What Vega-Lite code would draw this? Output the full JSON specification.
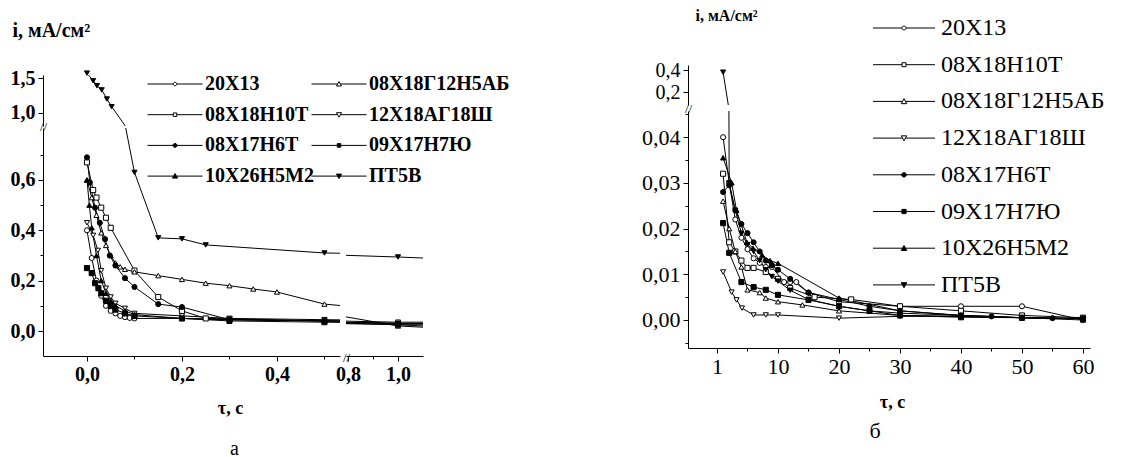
{
  "$schema": "https://vega.github.io/schema/vega-lite/v6.json",
  "padding": {"left": 10, "top": 7, "right": 5, "bottom": 0},
  "bounds": "flush",
  "spacing": 645,
  "config": {
    "view": {"stroke": null},
    "axis": {"labelFont": "Liberation Serif", "titleFont": "Liberation Serif", "labelColor": "black", "titleColor": "black", "domainColor": "black", "tickColor": "black", "grid": false, "labelOverlap": false, "labelFlush": false, "labelBound": false, "domainWidth": 1, "tickWidth": 1, "labelPadding": 3},
    "title": {"font": "Liberation Serif", "color": "black", "fontWeight": "normal"}
  },
  "datasets": {
    "a": [
      {"s": "20Х13", "t": 0, "i": 0.40}, {"s": "20Х13", "t": 0.01, "i": 0.29}, {"s": "20Х13", "t": 0.02, "i": 0.20}, {"s": "20Х13", "t": 0.03, "i": 0.14}, {"s": "20Х13", "t": 0.04, "i": 0.10}, {"s": "20Х13", "t": 0.05, "i": 0.08}, {"s": "20Х13", "t": 0.06, "i": 0.07}, {"s": "20Х13", "t": 0.07, "i": 0.06}, {"s": "20Х13", "t": 0.08, "i": 0.055}, {"s": "20Х13", "t": 0.09, "i": 0.052}, {"s": "20Х13", "t": 0.1, "i": 0.05}, {"s": "20Х13", "t": 0.2, "i": 0.05}, {"s": "20Х13", "t": 0.3, "i": 0.045}, {"s": "20Х13", "t": 0.5, "i": 0.04}, {"s": "20Х13", "t": 1.0, "i": 0.025}, {"s": "20Х13", "t": 1.1, "i": 0.02},
      {"s": "08Х18Н10Т", "t": 0, "i": 0.67}, {"s": "08Х18Н10Т", "t": 0.013, "i": 0.56}, {"s": "08Х18Н10Т", "t": 0.02, "i": 0.53}, {"s": "08Х18Н10Т", "t": 0.03, "i": 0.49}, {"s": "08Х18Н10Т", "t": 0.04, "i": 0.45}, {"s": "08Х18Н10Т", "t": 0.05, "i": 0.41}, {"s": "08Х18Н10Т", "t": 0.1, "i": 0.24}, {"s": "08Х18Н10Т", "t": 0.15, "i": 0.135}, {"s": "08Х18Н10Т", "t": 0.2, "i": 0.08}, {"s": "08Х18Н10Т", "t": 0.25, "i": 0.05}, {"s": "08Х18Н10Т", "t": 0.3, "i": 0.048}, {"s": "08Х18Н10Т", "t": 0.5, "i": 0.04}, {"s": "08Х18Н10Т", "t": 1.0, "i": 0.03}, {"s": "08Х18Н10Т", "t": 1.1, "i": 0.03},
      {"s": "08Х18Г12Н5АБ", "t": 0, "i": 0.60}, {"s": "08Х18Г12Н5АБ", "t": 0.01, "i": 0.53}, {"s": "08Х18Г12Н5АБ", "t": 0.02, "i": 0.46}, {"s": "08Х18Г12Н5АБ", "t": 0.03, "i": 0.39}, {"s": "08Х18Г12Н5АБ", "t": 0.04, "i": 0.34}, {"s": "08Х18Г12Н5АБ", "t": 0.05, "i": 0.30}, {"s": "08Х18Г12Н5АБ", "t": 0.06, "i": 0.27}, {"s": "08Х18Г12Н5АБ", "t": 0.07, "i": 0.255}, {"s": "08Х18Г12Н5АБ", "t": 0.08, "i": 0.245}, {"s": "08Х18Г12Н5АБ", "t": 0.1, "i": 0.235}, {"s": "08Х18Г12Н5АБ", "t": 0.15, "i": 0.22}, {"s": "08Х18Г12Н5АБ", "t": 0.2, "i": 0.205}, {"s": "08Х18Г12Н5АБ", "t": 0.25, "i": 0.19}, {"s": "08Х18Г12Н5АБ", "t": 0.3, "i": 0.18}, {"s": "08Х18Г12Н5АБ", "t": 0.35, "i": 0.167}, {"s": "08Х18Г12Н5АБ", "t": 0.4, "i": 0.155}, {"s": "08Х18Г12Н5АБ", "t": 0.5, "i": 0.107}, {"s": "08Х18Г12Н5АБ", "t": 1.0, "i": 0.02}, {"s": "08Х18Г12Н5АБ", "t": 1.1, "i": 0.015},
      {"s": "12Х18АГ18Ш", "t": 0, "i": 0.43}, {"s": "12Х18АГ18Ш", "t": 0.013, "i": 0.38}, {"s": "12Х18АГ18Ш", "t": 0.023, "i": 0.32}, {"s": "12Х18АГ18Ш", "t": 0.03, "i": 0.24}, {"s": "12Х18АГ18Ш", "t": 0.04, "i": 0.17}, {"s": "12Х18АГ18Ш", "t": 0.05, "i": 0.135}, {"s": "12Х18АГ18Ш", "t": 0.06, "i": 0.11}, {"s": "12Х18АГ18Ш", "t": 0.08, "i": 0.09}, {"s": "12Х18АГ18Ш", "t": 0.1, "i": 0.07}, {"s": "12Х18АГ18Ш", "t": 0.2, "i": 0.06}, {"s": "12Х18АГ18Ш", "t": 0.3, "i": 0.05}, {"s": "12Х18АГ18Ш", "t": 0.5, "i": 0.045}, {"s": "12Х18АГ18Ш", "t": 1.0, "i": 0.035}, {"s": "12Х18АГ18Ш", "t": 1.1, "i": 0.035},
      {"s": "08Х17Н6Т", "t": 0, "i": 0.69}, {"s": "08Х17Н6Т", "t": 0.006, "i": 0.59}, {"s": "08Х17Н6Т", "t": 0.017, "i": 0.49}, {"s": "08Х17Н6Т", "t": 0.027, "i": 0.43}, {"s": "08Х17Н6Т", "t": 0.038, "i": 0.365}, {"s": "08Х17Н6Т", "t": 0.048, "i": 0.30}, {"s": "08Х17Н6Т", "t": 0.06, "i": 0.26}, {"s": "08Х17Н6Т", "t": 0.08, "i": 0.21}, {"s": "08Х17Н6Т", "t": 0.1, "i": 0.175}, {"s": "08Х17Н6Т", "t": 0.15, "i": 0.107}, {"s": "08Х17Н6Т", "t": 0.2, "i": 0.095}, {"s": "08Х17Н6Т", "t": 0.3, "i": 0.045}, {"s": "08Х17Н6Т", "t": 0.5, "i": 0.04}, {"s": "08Х17Н6Т", "t": 1.0, "i": 0.03}, {"s": "08Х17Н6Т", "t": 1.1, "i": 0.03},
      {"s": "09Х17Н7Ю", "t": 0, "i": 0.25}, {"s": "09Х17Н7Ю", "t": 0.01, "i": 0.23}, {"s": "09Х17Н7Ю", "t": 0.017, "i": 0.19}, {"s": "09Х17Н7Ю", "t": 0.024, "i": 0.17}, {"s": "09Х17Н7Ю", "t": 0.03, "i": 0.15}, {"s": "09Х17Н7Ю", "t": 0.04, "i": 0.12}, {"s": "09Х17Н7Ю", "t": 0.05, "i": 0.10}, {"s": "09Х17Н7Ю", "t": 0.06, "i": 0.085}, {"s": "09Х17Н7Ю", "t": 0.08, "i": 0.07}, {"s": "09Х17Н7Ю", "t": 0.1, "i": 0.06}, {"s": "09Х17Н7Ю", "t": 0.2, "i": 0.05}, {"s": "09Х17Н7Ю", "t": 0.3, "i": 0.04}, {"s": "09Х17Н7Ю", "t": 0.5, "i": 0.035}, {"s": "09Х17Н7Ю", "t": 1.0, "i": 0.025}, {"s": "09Х17Н7Ю", "t": 1.1, "i": 0.025},
      {"s": "10Х26Н5М2", "t": 0, "i": 0.60}, {"s": "10Х26Н5М2", "t": 0.005, "i": 0.50}, {"s": "10Х26Н5М2", "t": 0.01, "i": 0.41}, {"s": "10Х26Н5М2", "t": 0.02, "i": 0.30}, {"s": "10Х26Н5М2", "t": 0.03, "i": 0.20}, {"s": "10Х26Н5М2", "t": 0.04, "i": 0.15}, {"s": "10Х26Н5М2", "t": 0.05, "i": 0.12}, {"s": "10Х26Н5М2", "t": 0.06, "i": 0.10}, {"s": "10Х26Н5М2", "t": 0.08, "i": 0.08}, {"s": "10Х26Н5М2", "t": 0.1, "i": 0.065}, {"s": "10Х26Н5М2", "t": 0.2, "i": 0.05}, {"s": "10Х26Н5М2", "t": 0.3, "i": 0.045}, {"s": "10Х26Н5М2", "t": 0.5, "i": 0.04}, {"s": "10Х26Н5М2", "t": 1.0, "i": 0.03}, {"s": "10Х26Н5М2", "t": 1.1, "i": 0.03},
      {"s": "ПТ5В", "t": 0, "i": 1.57}, {"s": "ПТ5В", "t": 0.013, "i": 1.46}, {"s": "ПТ5В", "t": 0.021, "i": 1.39}, {"s": "ПТ5В", "t": 0.031, "i": 1.33}, {"s": "ПТ5В", "t": 0.042, "i": 1.2}, {"s": "ПТ5В", "t": 0.052, "i": 1.09}, {"s": "ПТ5В", "t": 0.1, "i": 0.63}, {"s": "ПТ5В", "t": 0.15, "i": 0.37}, {"s": "ПТ5В", "t": 0.2, "i": 0.366}, {"s": "ПТ5В", "t": 0.25, "i": 0.342}, {"s": "ПТ5В", "t": 0.5, "i": 0.31}, {"s": "ПТ5В", "t": 1.0, "i": 0.294}, {"s": "ПТ5В", "t": 1.1, "i": 0.29}
    ],
    "b": [
      {"s": "20Х13", "t": 1, "i": 0.040}, {"s": "20Х13", "t": 2, "i": 0.030}, {"s": "20Х13", "t": 3, "i": 0.022}, {"s": "20Х13", "t": 4, "i": 0.018}, {"s": "20Х13", "t": 5, "i": 0.0155}, {"s": "20Х13", "t": 6, "i": 0.0135}, {"s": "20Х13", "t": 7, "i": 0.0125}, {"s": "20Х13", "t": 8, "i": 0.0116}, {"s": "20Х13", "t": 9, "i": 0.0116}, {"s": "20Х13", "t": 11, "i": 0.0083}, {"s": "20Х13", "t": 12, "i": 0.0083}, {"s": "20Х13", "t": 13, "i": 0.0083}, {"s": "20Х13", "t": 15, "i": 0.006}, {"s": "20Х13", "t": 20, "i": 0.004}, {"s": "20Х13", "t": 30, "i": 0.003}, {"s": "20Х13", "t": 40, "i": 0.003}, {"s": "20Х13", "t": 50, "i": 0.003}, {"s": "20Х13", "t": 60, "i": 0.0},
      {"s": "08Х18Н10Т", "t": 1, "i": 0.032}, {"s": "08Х18Н10Т", "t": 2, "i": 0.017}, {"s": "08Х18Н10Т", "t": 3, "i": 0.015}, {"s": "08Х18Н10Т", "t": 4, "i": 0.013}, {"s": "08Х18Н10Т", "t": 5, "i": 0.0114}, {"s": "08Х18Н10Т", "t": 6, "i": 0.0114}, {"s": "08Х18Н10Т", "t": 8, "i": 0.0105}, {"s": "08Х18Н10Т", "t": 10, "i": 0.009}, {"s": "08Х18Н10Т", "t": 12, "i": 0.007}, {"s": "08Х18Н10Т", "t": 16, "i": 0.005}, {"s": "08Х18Н10Т", "t": 22, "i": 0.0045}, {"s": "08Х18Н10Т", "t": 30, "i": 0.003}, {"s": "08Х18Н10Т", "t": 40, "i": 0.002}, {"s": "08Х18Н10Т", "t": 50, "i": 0.001}, {"s": "08Х18Н10Т", "t": 60, "i": 0.0005},
      {"s": "08Х18Г12Н5АБ", "t": 1, "i": 0.026}, {"s": "08Х18Г12Н5АБ", "t": 2, "i": 0.020}, {"s": "08Х18Г12Н5АБ", "t": 3, "i": 0.015}, {"s": "08Х18Г12Н5АБ", "t": 4, "i": 0.0116}, {"s": "08Х18Г12Н5АБ", "t": 5, "i": 0.0066}, {"s": "08Х18Г12Н5АБ", "t": 7, "i": 0.006}, {"s": "08Х18Г12Н5АБ", "t": 8, "i": 0.0048}, {"s": "08Х18Г12Н5АБ", "t": 10, "i": 0.004}, {"s": "08Х18Г12Н5АБ", "t": 14, "i": 0.0033}, {"s": "08Х18Г12Н5АБ", "t": 20, "i": 0.002}, {"s": "08Х18Г12Н5АБ", "t": 30, "i": 0.001}, {"s": "08Х18Г12Н5АБ", "t": 40, "i": 0.0008}, {"s": "08Х18Г12Н5АБ", "t": 50, "i": 0.0005}, {"s": "08Х18Г12Н5АБ", "t": 60, "i": 0.0},
      {"s": "12Х18АГ18Ш", "t": 1, "i": 0.0105}, {"s": "12Х18АГ18Ш", "t": 2.4, "i": 0.0061}, {"s": "12Х18АГ18Ш", "t": 3.2, "i": 0.0044}, {"s": "12Х18АГ18Ш", "t": 4.1, "i": 0.0026}, {"s": "12Х18АГ18Ш", "t": 6, "i": 0.0011}, {"s": "12Х18АГ18Ш", "t": 8, "i": 0.0011}, {"s": "12Х18АГ18Ш", "t": 10, "i": 0.0011}, {"s": "12Х18АГ18Ш", "t": 20, "i": 0.0004}, {"s": "12Х18АГ18Ш", "t": 30, "i": 0.0008}, {"s": "12Х18АГ18Ш", "t": 40, "i": 0.0008}, {"s": "12Х18АГ18Ш", "t": 50, "i": 0.0005}, {"s": "12Х18АГ18Ш", "t": 60, "i": 0.0003},
      {"s": "08Х17Н6Т", "t": 1, "i": 0.028}, {"s": "08Х17Н6Т", "t": 2, "i": 0.0295}, {"s": "08Х17Н6Т", "t": 3, "i": 0.024}, {"s": "08Х17Н6Т", "t": 4, "i": 0.021}, {"s": "08Х17Н6Т", "t": 5, "i": 0.019}, {"s": "08Х17Н6Т", "t": 6, "i": 0.017}, {"s": "08Х17Н6Т", "t": 7, "i": 0.015}, {"s": "08Х17Н6Т", "t": 8, "i": 0.013}, {"s": "08Х17Н6Т", "t": 9, "i": 0.012}, {"s": "08Х17Н6Т", "t": 10, "i": 0.011}, {"s": "08Х17Н6Т", "t": 12, "i": 0.009}, {"s": "08Х17Н6Т", "t": 15, "i": 0.006}, {"s": "08Х17Н6Т", "t": 20, "i": 0.0045}, {"s": "08Х17Н6Т", "t": 25, "i": 0.003}, {"s": "08Х17Н6Т", "t": 30, "i": 0.002}, {"s": "08Х17Н6Т", "t": 40, "i": 0.001}, {"s": "08Х17Н6Т", "t": 45, "i": 0.0008}, {"s": "08Х17Н6Т", "t": 50, "i": 0.0005}, {"s": "08Х17Н6Т", "t": 55, "i": 0.0004}, {"s": "08Х17Н6Т", "t": 60, "i": 0.0003},
      {"s": "09Х17Н7Ю", "t": 1, "i": 0.0212}, {"s": "09Х17Н7Ю", "t": 2, "i": 0.0147}, {"s": "09Х17Н7Ю", "t": 4, "i": 0.0083}, {"s": "09Х17Н7Ю", "t": 6, "i": 0.0072}, {"s": "09Х17Н7Ю", "t": 8, "i": 0.0066}, {"s": "09Х17Н7Ю", "t": 10, "i": 0.0055}, {"s": "09Х17Н7Ю", "t": 15, "i": 0.0044}, {"s": "09Х17Н7Ю", "t": 20, "i": 0.003}, {"s": "09Х17Н7Ю", "t": 25, "i": 0.002}, {"s": "09Х17Н7Ю", "t": 30, "i": 0.001}, {"s": "09Х17Н7Ю", "t": 40, "i": 0.0006}, {"s": "09Х17Н7Ю", "t": 50, "i": 0.0005}, {"s": "09Х17Н7Ю", "t": 60, "i": 0.0003},
      {"s": "10Х26Н5М2", "t": 1, "i": 0.0355}, {"s": "10Х26Н5М2", "t": 2.4, "i": 0.030}, {"s": "10Х26Н5М2", "t": 3.2, "i": 0.024}, {"s": "10Х26Н5М2", "t": 4.9, "i": 0.017}, {"s": "10Х26Н5М2", "t": 5.9, "i": 0.0157}, {"s": "10Х26Н5М2", "t": 7.4, "i": 0.0142}, {"s": "10Х26Н5М2", "t": 8.7, "i": 0.013}, {"s": "10Х26Н5М2", "t": 10, "i": 0.0124}, {"s": "10Х26Н5М2", "t": 20, "i": 0.0048}, {"s": "10Х26Н5М2", "t": 30, "i": 0.002}, {"s": "10Х26Н5М2", "t": 40, "i": 0.001}, {"s": "10Х26Н5М2", "t": 50, "i": 0.0005}, {"s": "10Х26Н5М2", "t": 60, "i": 0.0003},
      {"s": "ПТ5В", "t": 1, "i": 0.38}, {"s": "ПТ5В", "t": 2, "i": 0.030}, {"s": "ПТ5В", "t": 3, "i": 0.024}, {"s": "ПТ5В", "t": 4, "i": 0.019}, {"s": "ПТ5В", "t": 5, "i": 0.0165}, {"s": "ПТ5В", "t": 6, "i": 0.015}, {"s": "ПТ5В", "t": 7, "i": 0.013}, {"s": "ПТ5В", "t": 8, "i": 0.011}, {"s": "ПТ5В", "t": 9, "i": 0.0095}, {"s": "ПТ5В", "t": 10, "i": 0.0085}, {"s": "ПТ5В", "t": 12, "i": 0.0065}, {"s": "ПТ5В", "t": 15, "i": 0.0045}, {"s": "ПТ5В", "t": 20, "i": 0.003}, {"s": "ПТ5В", "t": 25, "i": 0.002}, {"s": "ПТ5В", "t": 30, "i": 0.0015}, {"s": "ПТ5В", "t": 40, "i": 0.001}, {"s": "ПТ5В", "t": 50, "i": 0.0005}, {"s": "ПТ5В", "t": 60, "i": 0.0003}
    ]
  },
  "hconcat": [
    {
      "bounds": "flush",
      "spacing": 2,
      "vconcat": [
        {"width": 297, "height": 8, "data": {"values": []}, "mark": "point", "encoding": {}},
        {
          "width": 297, "height": 51,
          "data": {"name": "a"},
          "resolve": {"scale": {"shape": "independent", "fill": "independent", "stroke": "independent"}},
          "encoding": {
            "x": {"field": "t", "type": "quantitative", "scale": {"domain": [-0.0926, 0.5327], "nice": false, "zero": false}, "axis": null},
            "y": {"field": "i", "type": "quantitative", "scale": {"domain": [0.814, 1.543], "nice": false, "zero": false},
              "axis": {"values": [0.814, 1.0, 1.5], "labelExpr": "datum.value < 0.9 ? '//' : replace(format(datum.value,'.1f'),'.',',')", "tickSize": 5,
                "tickOpacity": {"condition": {"test": "datum.value < 0.9", "value": 0}, "value": 1},
                "labelAlign": {"condition": {"test": "datum.value < 0.9", "value": "center"}, "value": "right"},
                "labelPadding": {"condition": {"test": "datum.value < 0.9", "value": -5}, "value": 3},
                "labelFontSize": {"condition": {"test": "datum.value < 0.9", "value": 13}, "value": 20},
                "labelFontWeight": {"condition": {"test": "datum.value < 0.9", "value": "normal"}, "value": "bold"},
                "title": "i, мА/см²", "titleAngle": 0, "titleAlign": "left", "titleBaseline": "alphabetic", "titleX": -31, "titleY": -39, "titleFontSize": 20, "titleFontWeight": "bold"}}
          },
          "layer": [
            {"mark": {"type": "line", "color": "black", "strokeWidth": 1, "clip": true}, "encoding": {"detail": {"field": "s"}}},
            {"transform": [{"filter": "datum.i > 0.814"}],
             "mark": {"type": "point", "stroke": "black", "strokeWidth": 1, "opacity": 1, "size": 26},
             "encoding": {
               "shape": {"field": "s", "type": "nominal", "legend": null, "scale": {"domain": ["20Х13", "08Х18Н10Т", "08Х18Г12Н5АБ", "12Х18АГ18Ш", "08Х17Н6Т", "09Х17Н7Ю", "10Х26Н5М2", "ПТ5В"], "range": ["circle", "square", "triangle-up", "triangle-down", "circle", "square", "triangle-up", "triangle-down"]}},
               "fill": {"field": "s", "type": "nominal", "legend": null, "scale": {"domain": ["20Х13", "08Х18Н10Т", "08Х18Г12Н5АБ", "12Х18АГ18Ш", "08Х17Н6Т", "09Х17Н7Ю", "10Х26Н5М2", "ПТ5В"], "range": ["white", "white", "white", "white", "black", "black", "black", "black"]}}
             }},
            {"transform": [{"filter": "false"}],
             "mark": {"type": "point", "strokeWidth": 1, "opacity": 1},
             "encoding": {
               "shape": {"field": "s", "type": "nominal",
                 "scale": {"domain": ["20Х13", "08Х18Н10Т", "08Х17Н6Т", "10Х26Н5М2", "08Х18Г12Н5АБ", "12Х18АГ18Ш", "09Х17Н7Ю", "ПТ5В"],
                   "range": [
                     "M-5.5,0H-0.35M0.35,0H5.5M0.35,0A0.35,0.35,0,1,1,-0.35,0A0.35,0.35,0,1,1,0.35,0Z",
                     "M-5.5,0H-0.35M0.35,0H5.5M-0.35,-0.35H0.35V0.35H-0.35Z",
                     "M-5.5,0H5.5M0.4,0A0.4,0.4,0,1,1,-0.4,0A0.4,0.4,0,1,1,0.4,0Z",
                     "M-5.5,0H5.5M0,-0.5L0.5,0.4H-0.5Z",
                     "M-5.5,0H-0.3M0.3,0H5.5M0,-0.5L0.5,0.4H-0.5Z",
                     "M-5.5,0H-0.3M0.3,0H5.5M0,0.5L0.5,-0.4H-0.5Z",
                     "M-5.5,0H5.5M-0.35,-0.35H0.35V0.35H-0.35Z",
                     "M-5.5,0H5.5M0,0.5L0.5,-0.4H-0.5Z"
                   ]},
                 "legend": {"title": null, "orient": "none", "legendX": 122, "legendY": -1, "columns": 2, "columnPadding": -5, "rowPadding": 10.7, "padding": 0, "symbolSize": 100, "symbolStrokeWidth": 1, "labelFont": "Liberation Serif", "labelFontSize": 20, "labelFontWeight": "bold", "labelColor": "black", "labelOffset": 20, "labelLimit": 0}},
               "fill": {"field": "s", "type": "nominal",
                 "scale": {"domain": ["20Х13", "08Х18Н10Т", "08Х17Н6Т", "10Х26Н5М2", "08Х18Г12Н5АБ", "12Х18АГ18Ш", "09Х17Н7Ю", "ПТ5В"], "range": ["white", "white", "black", "black", "white", "white", "black", "black"]},
                 "legend": {"title": null, "orient": "none", "legendX": 122, "legendY": -1, "columns": 2, "columnPadding": -5, "rowPadding": 10.7, "padding": 0, "symbolSize": 100, "symbolStrokeWidth": 1, "labelFont": "Liberation Serif", "labelFontSize": 20, "labelFontWeight": "bold", "labelColor": "black", "labelOffset": 20, "labelLimit": 0}},
               "stroke": {"field": "s", "type": "nominal",
                 "scale": {"domain": ["20Х13", "08Х18Н10Т", "08Х17Н6Т", "10Х26Н5М2", "08Х18Г12Н5АБ", "12Х18АГ18Ш", "09Х17Н7Ю", "ПТ5В"], "range": ["black", "black", "black", "black", "black", "black", "black", "black"]},
                 "legend": {"title": null, "orient": "none", "legendX": 122, "legendY": -1, "columns": 2, "columnPadding": -5, "rowPadding": 10.7, "padding": 0, "symbolSize": 100, "symbolStrokeWidth": 1, "labelFont": "Liberation Serif", "labelFontSize": 20, "labelFontWeight": "bold", "labelColor": "black", "labelOffset": 20, "labelLimit": 0}}
             }}
          ]
        },
        {
          "bounds": "flush",
          "spacing": 6,
          "hconcat": [
            {
              "width": 297, "height": 228,
              "data": {"name": "a"},
              "title": {"text": "а", "orient": "bottom", "anchor": "middle", "dx": 43, "offset": 22, "fontSize": 20},
              "encoding": {
                "x": {"field": "t", "type": "quantitative", "scale": {"domain": [-0.0926, 0.5327], "nice": false, "zero": false},
                  "axis": {"values": [0, 0.1, 0.2, 0.3, 0.4, 0.5], "labelExpr": "round(datum.value*10)%2==0 ? replace(format(datum.value,'.1f'),'.',',') : ''", "tickSize": {"condition": {"test": "round(datum.value*10)%2==0", "value": 5}, "value": 3}, "labelFontSize": 20, "labelFontWeight": "bold",
                    "title": "τ, с", "titleX": 187, "titleY": 52, "titleBaseline": "middle", "titleAlign": "center", "titleFontSize": 18, "titleFontWeight": "bold"}},
                "y": {"field": "i", "type": "quantitative", "scale": {"domain": [-0.0993, 0.8065], "nice": false, "zero": false},
                  "axis": {"values": [0, 0.1, 0.2, 0.3, 0.4, 0.5, 0.6, 0.7], "labelExpr": "round(datum.value*10)%2==0 ? replace(format(datum.value,'.1f'),'.',',') : ''", "tickSize": {"condition": {"test": "round(datum.value*10)%2==0", "value": 5}, "value": 3}, "labelFontSize": 20, "labelFontWeight": "bold", "title": null}}
              },
              "layer": [
                {"mark": {"type": "line", "color": "black", "strokeWidth": 1, "clip": true}, "encoding": {"detail": {"field": "s"}}},
                {"transform": [{"filter": "datum.i < 0.8065 && datum.t < 0.533"}],
                 "mark": {"type": "point", "stroke": "black", "strokeWidth": 1, "opacity": 1, "size": 26},
                 "encoding": {
                   "shape": {"field": "s", "type": "nominal", "legend": null, "scale": {"domain": ["20Х13", "08Х18Н10Т", "08Х18Г12Н5АБ", "12Х18АГ18Ш", "08Х17Н6Т", "09Х17Н7Ю", "10Х26Н5М2", "ПТ5В"], "range": ["circle", "square", "triangle-up", "triangle-down", "circle", "square", "triangle-up", "triangle-down"]}},
                   "fill": {"field": "s", "type": "nominal", "legend": null, "scale": {"domain": ["20Х13", "08Х18Н10Т", "08Х18Г12Н5АБ", "12Х18АГ18Ш", "08Х17Н6Т", "09Х17Н7Ю", "10Х26Н5М2", "ПТ5В"], "range": ["white", "white", "white", "white", "black", "black", "black", "black"]}}
                 }}
              ]
            },
            {
              "width": 77, "height": 228,
              "data": {"name": "a"},
              "encoding": {
                "x": {"field": "t", "type": "quantitative", "scale": {"domain": [0.792, 1.1], "nice": false, "zero": false},
                  "axis": {"values": [0.792, 0.8, 0.9, 1.0], "labelExpr": "datum.value < 0.795 ? '//' : (round(datum.value*10)%2==0 ? replace(format(datum.value,'.1f'),'.',',') : '')",
                    "tickSize": {"condition": {"test": "round(datum.value*10)%2==0", "value": 5}, "value": 3},
                    "tickOpacity": {"condition": {"test": "datum.value < 0.795", "value": 0}, "value": 1},
                    "labelBaseline": {"condition": {"test": "datum.value < 0.795", "value": "middle"}, "value": "top"},
                    "labelPadding": {"condition": {"test": "datum.value < 0.795", "value": -4}, "value": 3},
                    "labelFontSize": {"condition": {"test": "datum.value < 0.795", "value": 13}, "value": 20},
                    "labelFontWeight": {"condition": {"test": "datum.value < 0.795", "value": "normal"}, "value": "bold"},
                    "title": null}},
                "y": {"field": "i", "type": "quantitative", "scale": {"domain": [-0.0993, 0.8065], "nice": false, "zero": false}, "axis": null}
              },
              "layer": [
                {"mark": {"type": "line", "color": "black", "strokeWidth": 1, "clip": true}, "encoding": {"detail": {"field": "s"}}},
                {"transform": [{"filter": "datum.t > 0.79 && datum.t < 1.05 && datum.i < 0.8"}],
                 "mark": {"type": "point", "stroke": "black", "strokeWidth": 1, "opacity": 1, "size": 26},
                 "encoding": {
                   "shape": {"field": "s", "type": "nominal", "legend": null, "scale": {"domain": ["20Х13", "08Х18Н10Т", "08Х18Г12Н5АБ", "12Х18АГ18Ш", "08Х17Н6Т", "09Х17Н7Ю", "10Х26Н5М2", "ПТ5В"], "range": ["circle", "square", "triangle-up", "triangle-down", "circle", "square", "triangle-up", "triangle-down"]}},
                   "fill": {"field": "s", "type": "nominal", "legend": null, "scale": {"domain": ["20Х13", "08Х18Н10Т", "08Х18Г12Н5АБ", "12Х18АГ18Ш", "08Х17Н6Т", "09Х17Н7Ю", "10Х26Н5М2", "ПТ5В"], "range": ["white", "white", "white", "white", "black", "black", "black", "black"]}}
                 }}
              ]
            }
          ]
        }
      ]
    },
    {
      "bounds": "flush",
      "spacing": 6,
      "vconcat": [
        {
          "width": 402, "height": 40,
          "data": {"name": "b"},
          "resolve": {"scale": {"shape": "independent", "fill": "independent", "stroke": "independent"}},
          "encoding": {
            "x": {"field": "t", "type": "quantitative", "scale": {"domain": [-4.754, 61.15], "nice": false, "zero": false}, "axis": null},
            "y": {"field": "i", "type": "quantitative", "scale": {"domain": [0.0818, 0.4455], "nice": false, "zero": false},
              "axis": {"values": [0.0818, 0.2, 0.4], "labelExpr": "datum.value < 0.1 ? '//' : replace(format(datum.value,'.1f'),'.',',')", "tickSize": 5,
                "tickOpacity": {"condition": {"test": "datum.value < 0.1", "value": 0}, "value": 1},
                "labelAlign": {"condition": {"test": "datum.value < 0.1", "value": "center"}, "value": "right"},
                "labelPadding": {"condition": {"test": "datum.value < 0.1", "value": -5}, "value": 3},
                "labelFontSize": {"condition": {"test": "datum.value < 0.1", "value": 13}, "value": 20},
                "labelOffset": {"condition": {"test": "datum.value < 0.1", "value": 3}, "value": 0},
                "title": "i, мА/см²", "titleAngle": 0, "titleAlign": "left", "titleBaseline": "alphabetic", "titleX": 7, "titleY": -45, "titleFontSize": 16, "titleFontWeight": "bold"}}
          },
          "layer": [
            {"mark": {"type": "line", "color": "black", "strokeWidth": 1, "clip": true}, "encoding": {"detail": {"field": "s"}}},
            {"transform": [{"filter": "datum.i > 0.0818"}],
             "mark": {"type": "point", "stroke": "black", "strokeWidth": 1, "opacity": 1, "size": 26},
             "encoding": {
               "shape": {"field": "s", "type": "nominal", "legend": null, "scale": {"domain": ["20Х13", "08Х18Н10Т", "08Х18Г12Н5АБ", "12Х18АГ18Ш", "08Х17Н6Т", "09Х17Н7Ю", "10Х26Н5М2", "ПТ5В"], "range": ["circle", "square", "triangle-up", "triangle-down", "circle", "square", "triangle-up", "triangle-down"]}},
               "fill": {"field": "s", "type": "nominal", "legend": null, "scale": {"domain": ["20Х13", "08Х18Н10Т", "08Х18Г12Н5АБ", "12Х18АГ18Ш", "08Х17Н6Т", "09Х17Н7Ю", "10Х26Н5М2", "ПТ5В"], "range": ["white", "white", "white", "white", "black", "black", "black", "black"]}}
             }},
            {"transform": [{"filter": "false"}],
             "mark": {"type": "point", "strokeWidth": 1, "opacity": 1},
             "encoding": {
               "shape": {"field": "s", "type": "nominal",
                 "scale": {"domain": ["20Х13", "08Х18Н10Т", "08Х18Г12Н5АБ", "12Х18АГ18Ш", "08Х17Н6Т", "09Х17Н7Ю", "10Х26Н5М2", "ПТ5В"],
                   "range": [
                     "M-6.2,0H-0.4M0.4,0H6.2M0.4,0A0.4,0.4,0,1,1,-0.4,0A0.4,0.4,0,1,1,0.4,0Z",
                     "M-6.2,0H-0.4M0.4,0H6.2M-0.4,-0.4H0.4V0.4H-0.4Z",
                     "M-6.2,0H-0.35M0.35,0H6.2M0,-0.55L0.55,0.45H-0.55Z",
                     "M-6.2,0H-0.35M0.35,0H6.2M0,0.55L0.55,-0.45H-0.55Z",
                     "M-6.2,0H6.2M0.45,0A0.45,0.45,0,1,1,-0.45,0A0.45,0.45,0,1,1,0.45,0Z",
                     "M-6.2,0H6.2M-0.42,-0.42H0.42V0.42H-0.42Z",
                     "M-6.2,0H6.2M0,-0.55L0.55,0.45H-0.55Z",
                     "M-6.2,0H6.2M0,0.55L0.55,-0.45H-0.55Z"
                   ]},
                 "legend": {"title": null, "orient": "none", "legendX": 204, "legendY": -49, "columns": 1, "rowPadding": 12.7, "padding": 0, "symbolSize": 100, "symbolStrokeWidth": 1, "labelFont": "Liberation Serif", "labelFontSize": 24, "labelFontWeight": "normal", "labelColor": "black", "labelOffset": 25, "labelLimit": 0}},
               "fill": {"field": "s", "type": "nominal",
                 "scale": {"domain": ["20Х13", "08Х18Н10Т", "08Х18Г12Н5АБ", "12Х18АГ18Ш", "08Х17Н6Т", "09Х17Н7Ю", "10Х26Н5М2", "ПТ5В"], "range": ["white", "white", "white", "white", "black", "black", "black", "black"]},
                 "legend": {"title": null, "orient": "none", "legendX": 204, "legendY": -49, "columns": 1, "rowPadding": 12.7, "padding": 0, "symbolSize": 100, "symbolStrokeWidth": 1, "labelFont": "Liberation Serif", "labelFontSize": 24, "labelFontWeight": "normal", "labelColor": "black", "labelOffset": 25, "labelLimit": 0}},
               "stroke": {"field": "s", "type": "nominal",
                 "scale": {"domain": ["20Х13", "08Х18Н10Т", "08Х18Г12Н5АБ", "12Х18АГ18Ш", "08Х17Н6Т", "09Х17Н7Ю", "10Х26Н5М2", "ПТ5В"], "range": ["black", "black", "black", "black", "black", "black", "black", "black"]},
                 "legend": {"title": null, "orient": "none", "legendX": 204, "legendY": -49, "columns": 1, "rowPadding": 12.7, "padding": 0, "symbolSize": 100, "symbolStrokeWidth": 1, "labelFont": "Liberation Serif", "labelFontSize": 24, "labelFontWeight": "normal", "labelColor": "black", "labelOffset": 25, "labelLimit": 0}}
             }}
          ]
        },
        {
          "width": 402, "height": 237,
          "data": {"name": "b"},
          "title": {"text": "б", "orient": "bottom", "anchor": "middle", "dx": -14, "offset": 10, "fontSize": 22},
          "encoding": {
            "x": {"field": "t", "type": "quantitative", "scale": {"domain": [-4.754, 61.15], "nice": false, "zero": false},
              "axis": {"values": [0, 5, 10, 15, 20, 25, 30, 35, 40, 45, 50, 55, 60], "labelExpr": "datum.value==0 ? '1' : (datum.value%10==0 ? datum.label : '')", "tickSize": {"condition": {"test": "datum.value%10==0", "value": 5}, "value": 3}, "labelFontSize": 22,
                "title": "τ, с", "titleX": 204, "titleY": 54, "titleBaseline": "middle", "titleAlign": "center", "titleFontSize": 18, "titleFontWeight": "bold"}},
            "y": {"field": "i", "type": "quantitative", "scale": {"domain": [-0.006127, 0.04573], "nice": false, "zero": false},
              "axis": {"values": [-0.005, 0, 0.005, 0.01, 0.015, 0.02, 0.025, 0.03, 0.035, 0.04, 0.045], "labelExpr": "round(datum.value*1000)%10==0 ? replace(format(datum.value,'.2f'),'.',',') : ''", "tickSize": {"condition": {"test": "round(datum.value*1000)%10==0", "value": 5}, "value": 3}, "labelFontSize": 22, "title": null}}
          },
          "layer": [
            {"mark": {"type": "line", "color": "black", "strokeWidth": 1, "clip": true}, "encoding": {"detail": {"field": "s"}}},
            {"transform": [{"filter": "datum.i < 0.0457"}],
             "mark": {"type": "point", "stroke": "black", "strokeWidth": 1, "opacity": 1, "size": 26},
             "encoding": {
               "shape": {"field": "s", "type": "nominal", "legend": null, "scale": {"domain": ["20Х13", "08Х18Н10Т", "08Х18Г12Н5АБ", "12Х18АГ18Ш", "08Х17Н6Т", "09Х17Н7Ю", "10Х26Н5М2", "ПТ5В"], "range": ["circle", "square", "triangle-up", "triangle-down", "circle", "square", "triangle-up", "triangle-down"]}},
               "fill": {"field": "s", "type": "nominal", "legend": null, "scale": {"domain": ["20Х13", "08Х18Н10Т", "08Х18Г12Н5АБ", "12Х18АГ18Ш", "08Х17Н6Т", "09Х17Н7Ю", "10Х26Н5М2", "ПТ5В"], "range": ["white", "white", "white", "white", "black", "black", "black", "black"]}}
             }}
          ]
        }
      ]
    }
  ]
}
